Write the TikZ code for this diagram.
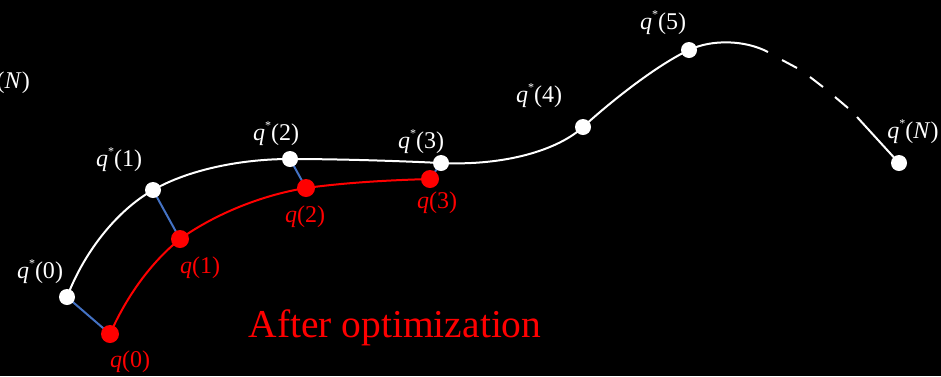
\documentclass[tikz,border=0pt]{standalone}
\usepackage{fontspec}
\setmainfont{Liberation Serif}
\definecolor{lnblue}{RGB}{68,114,196}
\definecolor{lnred}{RGB}{255,0,0}
\tikzset{
  wdot/.style={circle,fill=white,inner sep=0pt,minimum size=16pt},
  rdot/.style={circle,fill=lnred,inner sep=0pt,minimum size=18pt},
  wlab/.style={text=white,font=\fontsize{24}{26}\selectfont,inner sep=0pt},
  rlab/.style={text=lnred,font=\fontsize{24}{26}\selectfont,inner sep=0pt},
  wcurve/.style={white,line width=2pt},
  rcurve/.style={lnred,line width=2pt},
  link/.style={lnblue,line width=2pt},
}
\newcommand{\qs}[1]{\textit{q}\raisebox{0.45em}{\fontsize{12}{12}\selectfont *}(#1)}
\newcommand{\qq}[1]{\textit{q}(#1)}
\begin{document}
\begin{tikzpicture}[x=1pt,y=-1pt]
\fill[black] (0,0) rectangle (941,376);
\useasboundingbox (0,0) rectangle (941,376);
% white points
\coordinate (s0) at (67,297);
\coordinate (s1) at (153,190);
\coordinate (s2) at (290,159);
\coordinate (s3) at (441,163);
\coordinate (s4) at (583,127);
\coordinate (s5) at (689,50);
\coordinate (sN) at (899,163);
\coordinate (e1) at (768,52);
\coordinate (d1a) at (782,60);  \coordinate (d1b) at (797,68);
\coordinate (d2a) at (810,77);  \coordinate (d2b) at (823,87);
\coordinate (d3a) at (835,97);  \coordinate (d3b) at (848,108);
\coordinate (e2) at (857,117);
% red points
\coordinate (r0) at (110,334);
\coordinate (r1) at (180,239);
\coordinate (r2) at (306,188);
\coordinate (r3) at (430,179);
% blue links
\draw[link] (s0) -- (r0);
\draw[link] (s1) -- (r1);
\draw[link] (s2) -- (r2);
\draw[link] (s3) -- (r3);
% white curve
\draw[wcurve] (s0) .. controls (85,250) and (118,210) .. (s1)
  .. controls (188,170) and (240,159) .. (s2)
  .. controls (340,159) and (400,161) .. (s3)
  .. controls (505,166) and (558,150) .. (s4)
  .. controls (608,104) and (655,66) .. (s5)
  .. controls (712,39) and (745,40) .. (e1);
\draw[wcurve] (d1a) -- (d1b);
\draw[wcurve] (d2a) -- (d2b);
\draw[wcurve] (d3a) -- (d3b);
\draw[wcurve] (e2) -- (sN);
% red curve
\draw[rcurve] (r0) .. controls (125,300) and (148,265) .. (r1)
  .. controls (215,214) and (262,195) .. (r2)
  .. controls (350,182) and (395,180) .. (r3);
% dots
\foreach \n in {s0,s1,s2,s3,s4,s5,sN} \node[wdot] (n\n) at (\n) {};
\foreach \n in {r0,r1,r2,r3} \node[rdot] (n\n) at (\n) {};
% labels
\node[wlab] (l0) at (40,272) {\qs{0}};
\node[wlab] (l1) at (119,160) {\qs{1}};
\node[wlab] (l2) at (276,134) {\qs{2}};
\node[wlab] (l3) at (421,142) {\qs{3}};
\node[wlab] (l4) at (539,96) {\qs{4}};
\node[wlab] (l5) at (663,23) {\qs{5}};
\node[wlab] (lN) at (913,132) {\qs{\textit{N}}};
\node[wlab,anchor=east] (lNleft) at (30,82) {\qs{\textit{N}}};
\node[rlab] (k0) at (130,362) {\qq{0}};
\node[rlab] (k1) at (200,268) {\qq{1}};
\node[rlab] (k2) at (305,217) {\qq{2}};
\node[rlab] (k3) at (437,203) {\qq{3}};
\node[text=lnred,font=\fontsize{39.5}{42}\selectfont,inner sep=0pt] (title) at (395,328) {After optimization};
\end{tikzpicture}
\end{document}
